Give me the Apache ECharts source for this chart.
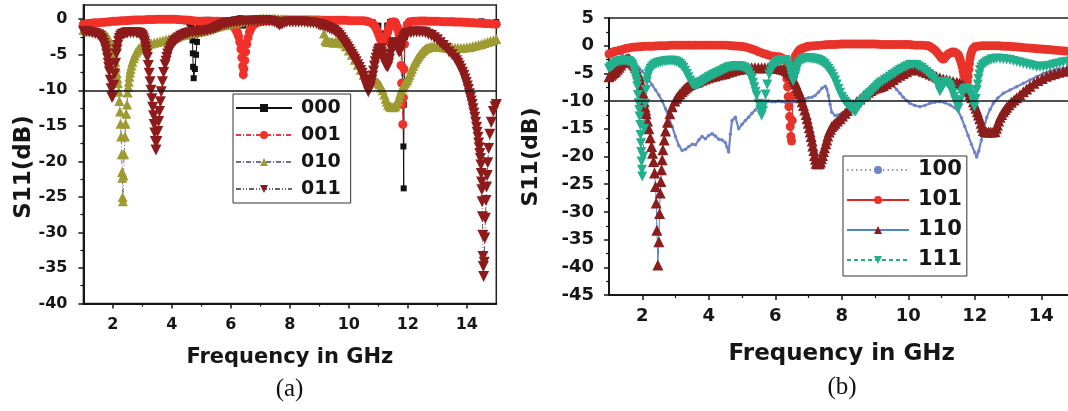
<!DOCTYPE html>
<html>
<head>
<meta charset="utf-8">
<script src="https://cdn.jsdelivr.net/npm/echarts@6/dist/echarts.min.js"></script>
<style>
html,body{margin:0;padding:0;background:#fff;}
#chart{width:1068px;height:411px;}
</style>
</head>
<body>
<div id="chart"></div>
<script>
// ---- tick values ----
const freqMajor = [2, 4, 6, 8, 10, 12, 14];
const freqMinor = [3, 5, 7, 9, 11, 13];
const dbMajorA = [0, -5, -10, -15, -20, -25, -30, -35, -40];
const dbMinorA = [-2.5, -7.5, -12.5, -17.5, -22.5, -27.5, -32.5, -37.5];
const dbMajorB = [5, 0, -5, -10, -15, -20, -25, -30, -35, -40, -45];
const dbMinorB = [2.5, -2.5, -7.5, -12.5, -17.5, -22.5, -27.5, -32.5, -37.5, -42.5];

// ---- (a) states: [frequency GHz, S11 dB] ----
const s000 = [[1.0,-0.5],[1.25,-0.45],[1.5,-0.4],[1.75,-0.3],[2.0,-0.2],[2.5,-0.1],[3.0,-0.1],[3.5,0],[4.0,-0.1],[4.3,-0.2],[4.5,-0.3],[4.6,-0.6],[4.66,-1.0],[4.7,-3.0],[4.71,-4.8],[4.72,-6.7],[4.74,-8.3],[4.78,-7.0],[4.82,-5.0],[4.85,-3.2],[4.9,-1.0],[4.95,-0.4],[5.0,-0.2],[5.05,-0.15],[5.1,-0.1],[5.15,-0.1],[5.2,-0.1],[5.25,-0.1],[5.3,-0.1],[5.35,-0.12],[5.4,-0.15],[5.45,-0.18],[5.5,-0.2],[5.55,-0.2],[5.6,-0.2],[5.8,-0.15],[6.0,-0.1],[6.1,-0.05],[6.2,0],[6.25,0.05],[6.3,0.1],[6.35,0.1],[6.42,-0.9],[6.5,-0.6],[6.6,-0.3],[6.8,-0.2],[7.0,-0.1],[7.5,0],[8.0,-0.1],[8.5,-0.1],[9.0,-0.1],[9.5,-0.1],[10.0,-0.1],[10.5,-0.2],[10.8,-0.4],[11.0,-0.9],[11.1,-2.0],[11.15,-3.4],[11.22,-2.2],[11.3,-0.9],[11.4,-0.4],[11.45,-0.3],[11.5,-0.25],[11.55,-0.3],[11.6,-0.5],[11.68,-1.2],[11.76,-2.8],[11.82,-6.7],[11.84,-12.0],[11.85,-17.9],[11.86,-23.8],[11.87,-12.0],[11.9,-2.5],[11.95,-0.8],[12.1,-0.3],[12.5,-0.2],[13.0,-0.2],[13.5,-0.2],[14.0,-0.3],[14.5,-0.3],[15.0,-0.4]];

const s001 = [[1.0,-0.7],[1.1,-0.65],[1.2,-0.6],[1.3,-0.55],[1.4,-0.5],[1.5,-0.48],[1.6,-0.45],[1.7,-0.42],[1.8,-0.4],[1.9,-0.35],[2.0,-0.3],[2.1,-0.28],[2.2,-0.25],[2.3,-0.22],[2.4,-0.2],[2.5,-0.18],[2.6,-0.15],[2.7,-0.12],[2.8,-0.1],[2.9,-0.1],[3.0,-0.1],[3.1,-0.08],[3.2,-0.05],[3.3,-0.05],[3.4,-0.05],[3.5,-0.02],[3.6,0],[3.7,0],[3.8,0],[3.9,0],[4.0,0],[4.1,-0.02],[4.2,-0.05],[4.3,-0.08],[4.4,-0.1],[4.5,-0.12],[4.6,-0.15],[4.7,-0.2],[4.8,-0.25],[4.9,-0.28],[5.0,-0.3],[5.1,-0.3],[5.2,-0.3],[5.3,-0.3],[5.4,-0.3],[5.5,-0.3],[5.6,-0.3],[5.7,-0.32],[5.8,-0.35],[5.88,-0.42],[5.95,-0.5],[6.0,-0.65],[6.05,-0.8],[6.12,-1.2],[6.17,-1.5],[6.2,-1.7],[6.23,-2.0],[6.26,-2.4],[6.3,-3.2],[6.34,-4.2],[6.37,-5.4],[6.4,-6.6],[6.42,-7.8],[6.44,-7.0],[6.47,-5.8],[6.5,-4.6],[6.54,-3.5],[6.58,-2.6],[6.63,-1.8],[6.67,-1.4],[6.7,-1.1],[6.75,-0.9],[6.8,-0.7],[6.85,-0.55],[6.9,-0.45],[7.0,-0.35],[7.1,-0.3],[7.2,-0.25],[7.3,-0.22],[7.4,-0.2],[7.5,-0.18],[7.6,-0.15],[7.7,-0.12],[7.8,-0.1],[7.9,-0.1],[8.0,-0.1],[8.1,-0.1],[8.2,-0.1],[8.3,-0.1],[8.4,-0.1],[8.5,-0.1],[8.6,-0.1],[8.7,-0.1],[8.8,-0.1],[8.9,-0.1],[9.0,-0.1],[9.1,-0.15],[9.2,-0.15],[9.3,-0.15],[9.4,-0.15],[9.5,-0.15],[9.6,-0.15],[9.7,-0.15],[9.8,-0.15],[9.9,-0.15],[10.0,-0.2],[10.1,-0.2],[10.2,-0.2],[10.3,-0.2],[10.4,-0.2],[10.5,-0.22],[10.6,-0.3],[10.7,-0.4],[10.8,-0.6],[10.85,-0.8],[10.9,-1.1],[10.94,-1.4],[10.98,-1.8],[11.02,-2.2],[11.05,-2.6],[11.08,-2.9],[11.12,-3.2],[11.16,-3.2],[11.2,-3.0],[11.24,-2.7],[11.28,-2.3],[11.32,-1.8],[11.35,-1.3],[11.38,-0.9],[11.42,-0.6],[11.46,-0.45],[11.5,-0.4],[11.54,-0.4],[11.58,-0.5],[11.61,-0.8],[11.64,-1.2],[11.67,-1.6],[11.7,-2.2],[11.74,-4.0],[11.77,-6.5],[11.79,-9.0],[11.81,-12.0],[11.83,-14.8],[11.85,-11.0],[11.87,-7.0],[11.89,-3.5],[11.93,-1.5],[11.98,-0.8],[12.02,-0.55],[12.05,-0.4],[12.1,-0.35],[12.2,-0.3],[12.3,-0.28],[12.4,-0.25],[12.5,-0.25],[12.6,-0.25],[12.7,-0.28],[12.8,-0.3],[12.9,-0.3],[13.0,-0.3],[13.1,-0.32],[13.2,-0.35],[13.3,-0.35],[13.4,-0.35],[13.5,-0.38],[13.6,-0.4],[13.7,-0.4],[13.8,-0.4],[13.9,-0.42],[14.0,-0.45],[14.1,-0.48],[14.2,-0.5],[14.3,-0.52],[14.4,-0.55],[14.5,-0.58],[14.6,-0.6],[14.7,-0.62],[14.8,-0.65],[14.9,-0.68],[15.0,-0.7]];

const s010 = [[1.0,-1.5],[1.1,-1.55],[1.2,-1.6],[1.3,-1.65],[1.4,-1.7],[1.5,-1.8],[1.6,-1.9],[1.68,-2.0],[1.75,-2.2],[1.8,-2.4],[1.85,-2.7],[1.9,-3.1],[1.95,-3.5],[1.99,-4.0],[2.02,-4.6],[2.05,-5.3],[2.08,-6.0],[2.1,-6.8],[2.13,-7.6],[2.15,-8.3],[2.17,-9.0],[2.2,-10.2],[2.22,-11.5],[2.24,-13.0],[2.26,-14.7],[2.28,-16.5],[2.3,-19.0],[2.31,-21.5],[2.32,-22.3],[2.33,-25.0],[2.34,-25.6],[2.36,-22.0],[2.38,-19.0],[2.41,-16.5],[2.43,-14.7],[2.45,-13.3],[2.48,-12.0],[2.5,-10.3],[2.52,-9.5],[2.54,-8.8],[2.56,-8.1],[2.58,-7.5],[2.6,-7.0],[2.63,-6.5],[2.66,-6.0],[2.7,-5.5],[2.74,-5.1],[2.78,-4.7],[2.83,-4.4],[2.88,-4.1],[2.94,-3.95],[3.0,-3.8],[3.1,-3.7],[3.2,-3.55],[3.3,-3.4],[3.4,-3.3],[3.5,-3.2],[3.6,-3.1],[3.7,-3.0],[3.8,-2.9],[3.9,-2.8],[4.0,-2.7],[4.1,-2.6],[4.2,-2.45],[4.3,-2.3],[4.4,-2.2],[4.5,-2.1],[4.6,-2.0],[4.7,-1.9],[4.8,-1.85],[4.9,-1.8],[5.0,-1.7],[5.1,-1.6],[5.2,-1.45],[5.3,-1.3],[5.4,-1.2],[5.5,-1.1],[5.6,-1.0],[5.7,-0.9],[5.8,-0.8],[5.9,-0.7],[6.0,-0.6],[6.1,-0.5],[6.2,-0.45],[6.3,-0.4],[6.4,-0.3],[6.5,-0.2],[6.6,-0.15],[6.7,-0.1],[6.8,-0.05],[6.9,0],[7.0,0.05],[7.1,0.1],[7.2,0.1],[7.3,0.1],[7.4,0.1],[7.5,0.1],[7.6,0.05],[7.7,0],[7.8,0],[7.9,0],[8.0,-0.05],[8.1,-0.1],[8.2,-0.1],[8.3,-0.1],[8.4,-0.1],[8.5,-0.1],[8.6,-0.1],[8.7,-0.15],[8.8,-0.2],[8.9,-0.2],[9.0,-0.25],[9.05,-0.3],[9.12,-0.8],[9.16,-2.0],[9.2,-3.0],[9.25,-3.15],[9.3,-3.2],[9.35,-3.2],[9.4,-3.2],[9.45,-3.25],[9.5,-3.3],[9.55,-3.25],[9.6,-3.2],[9.7,-3.1],[9.8,-3.4],[9.9,-3.8],[10.0,-4.4],[10.1,-5.0],[10.2,-5.7],[10.3,-6.4],[10.4,-7.1],[10.5,-7.8],[10.58,-8.15],[10.65,-8.4],[10.72,-8.5],[10.8,-8.6],[10.88,-8.7],[10.95,-8.8],[11.0,-9.0],[11.05,-9.2],[11.1,-9.6],[11.15,-10.0],[11.2,-10.6],[11.25,-11.2],[11.29,-11.6],[11.33,-12.0],[11.38,-12.2],[11.42,-12.3],[11.46,-12.35],[11.5,-12.4],[11.54,-12.3],[11.58,-12.2],[11.62,-11.9],[11.66,-11.5],[11.7,-11.0],[11.74,-10.5],[11.78,-10.0],[11.82,-9.6],[11.86,-9.3],[11.9,-9.0],[11.94,-8.75],[11.98,-8.5],[12.02,-8.15],[12.06,-7.8],[12.1,-7.4],[12.14,-7.0],[12.18,-6.6],[12.22,-6.2],[12.26,-5.9],[12.3,-5.6],[12.35,-5.3],[12.4,-5.0],[12.45,-4.75],[12.5,-4.5],[12.56,-4.3],[12.62,-4.1],[12.68,-4.0],[12.75,-3.9],[12.82,-3.85],[12.9,-3.8],[13.0,-3.85],[13.1,-3.9],[13.2,-3.95],[13.3,-4.0],[13.4,-4.0],[13.5,-4.0],[13.6,-4.0],[13.7,-4.0],[13.8,-4.0],[13.9,-4.0],[14.0,-3.95],[14.1,-3.9],[14.2,-3.8],[14.3,-3.7],[14.4,-3.6],[14.5,-3.5],[14.6,-3.35],[14.7,-3.2],[14.8,-3.05],[14.9,-2.95],[15.0,-2.8]];

const s011 = [[1.0,-1.7],[1.1,-1.75],[1.2,-1.8],[1.3,-1.9],[1.4,-2.0],[1.5,-2.2],[1.56,-2.4],[1.61,-2.7],[1.65,-3.0],[1.69,-3.4],[1.73,-3.8],[1.76,-4.3],[1.79,-4.9],[1.82,-5.5],[1.84,-6.2],[1.86,-6.8],[1.88,-7.4],[1.91,-8.6],[1.94,-9.8],[1.97,-11.0],[2.0,-10.8],[2.03,-9.3],[2.06,-7.7],[2.09,-6.2],[2.12,-4.9],[2.14,-4.3],[2.16,-3.7],[2.19,-3.1],[2.22,-2.7],[2.26,-2.4],[2.3,-2.2],[2.35,-2.1],[2.4,-2.0],[2.45,-1.95],[2.5,-1.9],[2.6,-1.9],[2.7,-1.9],[2.8,-1.9],[2.85,-1.95],[2.9,-2.0],[2.94,-2.1],[2.98,-2.3],[3.01,-2.5],[3.04,-2.8],[3.07,-3.1],[3.09,-3.5],[3.11,-3.9],[3.13,-4.4],[3.15,-4.9],[3.17,-5.4],[3.2,-6.5],[3.23,-7.6],[3.26,-8.8],[3.29,-10.0],[3.32,-11.2],[3.35,-12.4],[3.38,-13.6],[3.4,-14.8],[3.42,-16.0],[3.44,-17.2],[3.46,-18.4],[3.49,-17.2],[3.52,-15.8],[3.55,-14.4],[3.58,-13.0],[3.61,-11.6],[3.64,-10.2],[3.68,-8.8],[3.72,-7.5],[3.77,-6.4],[3.8,-5.9],[3.83,-5.4],[3.86,-4.9],[3.9,-4.5],[3.94,-4.1],[3.98,-3.8],[4.02,-3.5],[4.07,-3.2],[4.12,-3.0],[4.17,-2.8],[4.23,-2.6],[4.3,-2.4],[4.37,-2.25],[4.45,-2.1],[4.52,-2.0],[4.6,-1.9],[4.7,-1.85],[4.8,-1.8],[4.9,-1.75],[5.0,-1.7],[5.1,-1.65],[5.2,-1.6],[5.3,-1.5],[5.4,-1.4],[5.48,-1.25],[5.55,-1.1],[5.62,-0.95],[5.7,-0.8],[5.78,-0.7],[5.85,-0.6],[5.92,-0.55],[6.0,-0.5],[6.1,-0.45],[6.2,-0.4],[6.3,-0.35],[6.4,-0.3],[6.5,-0.3],[6.6,-0.3],[6.7,-0.28],[6.8,-0.25],[6.9,-0.22],[7.0,-0.2],[7.1,-0.2],[7.2,-0.2],[7.3,-0.25],[7.4,-0.3],[7.48,-0.4],[7.55,-0.5],[7.6,-0.65],[7.65,-0.8],[7.7,-0.7],[7.75,-0.6],[7.82,-0.5],[7.9,-0.4],[8.0,-0.4],[8.1,-0.4],[8.2,-0.4],[8.3,-0.4],[8.4,-0.4],[8.5,-0.4],[8.6,-0.45],[8.7,-0.5],[8.8,-0.55],[8.9,-0.6],[8.98,-0.7],[9.05,-0.8],[9.12,-0.9],[9.2,-1.0],[9.28,-1.15],[9.35,-1.3],[9.42,-1.45],[9.5,-1.6],[9.56,-1.8],[9.62,-2.0],[9.68,-2.3],[9.74,-2.6],[9.8,-2.95],[9.85,-3.3],[9.9,-3.6],[9.95,-3.9],[10.0,-4.25],[10.05,-4.6],[10.1,-4.95],[10.15,-5.3],[10.2,-5.65],[10.25,-6.0],[10.3,-6.4],[10.35,-6.8],[10.4,-7.2],[10.45,-7.6],[10.49,-8.05],[10.53,-8.5],[10.57,-9.0],[10.6,-9.4],[10.63,-9.8],[10.66,-10.2],[10.69,-9.9],[10.72,-9.6],[10.75,-9.1],[10.78,-8.6],[10.81,-8.0],[10.84,-7.3],[10.87,-6.6],[10.9,-6.0],[10.93,-5.5],[10.96,-5.0],[10.99,-4.6],[11.02,-4.3],[11.05,-4.2],[11.08,-4.2],[11.11,-4.6],[11.14,-5.0],[11.17,-5.5],[11.2,-5.9],[11.23,-6.2],[11.26,-6.5],[11.29,-6.6],[11.32,-6.7],[11.35,-6.2],[11.38,-5.6],[11.41,-4.9],[11.44,-4.2],[11.47,-3.8],[11.5,-3.4],[11.53,-3.3],[11.56,-3.3],[11.59,-3.4],[11.62,-3.6],[11.66,-4.1],[11.7,-4.6],[11.73,-4.5],[11.76,-4.2],[11.79,-3.6],[11.82,-3.0],[11.86,-2.6],[11.9,-2.3],[11.95,-2.1],[12.0,-2.0],[12.1,-1.9],[12.2,-1.8],[12.3,-1.8],[12.4,-1.8],[12.5,-1.8],[12.6,-1.9],[12.7,-2.1],[12.8,-2.3],[12.9,-2.6],[13.0,-2.9],[13.1,-3.3],[13.2,-3.7],[13.3,-4.1],[13.4,-4.6],[13.5,-5.0],[13.6,-5.5],[13.65,-5.85],[13.7,-6.2],[13.75,-6.6],[13.8,-7.0],[13.85,-7.45],[13.9,-7.9],[13.94,-8.4],[13.98,-8.9],[14.02,-9.4],[14.05,-9.9],[14.09,-10.5],[14.12,-11.0],[14.15,-11.5],[14.18,-12.0],[14.21,-12.6],[14.24,-13.2],[14.27,-13.8],[14.3,-14.5],[14.33,-15.2],[14.35,-15.9],[14.38,-16.6],[14.4,-17.4],[14.42,-18.1],[14.44,-18.9],[14.46,-19.6],[14.48,-20.5],[14.49,-21.7],[14.5,-22.9],[14.51,-24.0],[14.52,-25.7],[14.53,-27.8],[14.54,-30.4],[14.55,-33.4],[14.56,-34.8],[14.57,-36.2],[14.59,-34.2],[14.61,-30.8],[14.63,-28.0],[14.65,-25.5],[14.67,-23.6],[14.69,-22.0],[14.71,-20.2],[14.74,-18.2],[14.78,-16.2],[14.83,-14.5],[14.9,-13.0],[14.96,-12.3],[15.0,-12.0]];

// ---- (b) states: [frequency GHz, S11 dB] ----
const s100 = [[1.0,-1.0],[1.1,-0.9],[1.2,-1.0],[1.3,-1.3],[1.4,-1.7],[1.5,-2.2],[1.6,-2.7],[1.7,-3.2],[1.8,-3.6],[1.9,-4.0],[2.0,-4.6],[2.1,-5.4],[2.2,-6.2],[2.3,-7.1],[2.4,-8.0],[2.5,-8.9],[2.6,-10.0],[2.7,-11.4],[2.8,-13.0],[2.9,-14.6],[3.0,-16.4],[3.1,-18.0],[3.2,-18.9],[3.3,-18.7],[3.4,-18.2],[3.5,-17.8],[3.6,-17.9],[3.7,-17.0],[3.8,-16.4],[3.9,-16.8],[4.0,-16.2],[4.1,-15.9],[4.2,-16.3],[4.3,-16.9],[4.4,-17.0],[4.5,-17.5],[4.55,-18.3],[4.6,-19.2],[4.65,-16.0],[4.7,-13.5],[4.8,-12.9],[4.9,-15.0],[5.0,-14.2],[5.1,-13.5],[5.2,-12.9],[5.3,-12.2],[5.4,-11.6],[5.5,-10.9],[5.6,-10.3],[5.7,-10.1],[5.8,-10.0],[5.9,-10.1],[6.0,-10.1],[6.1,-10.0],[6.2,-10.1],[6.3,-10.2],[6.4,-10.3],[6.5,-10.2],[6.6,-10.1],[6.7,-10.0],[6.8,-9.8],[6.9,-9.6],[7.0,-9.4],[7.1,-9.3],[7.2,-9.0],[7.3,-8.4],[7.4,-7.7],[7.5,-7.3],[7.55,-7.8],[7.6,-9.0],[7.65,-10.6],[7.7,-12.0],[7.8,-12.6],[7.9,-12.5],[8.0,-12.2],[8.2,-11.5],[8.4,-10.6],[8.6,-9.5],[8.8,-8.5],[9.0,-7.6],[9.2,-6.8],[9.35,-6.3],[9.45,-6.5],[9.55,-7.2],[9.65,-7.9],[9.75,-8.6],[9.85,-9.3],[9.95,-9.9],[10.05,-10.4],[10.2,-10.8],[10.35,-11.0],[10.5,-10.8],[10.65,-10.4],[10.8,-10.2],[10.95,-10.1],[11.1,-10.3],[11.26,-10.7],[11.4,-11.2],[11.5,-11.8],[11.6,-13.0],[11.7,-14.6],[11.8,-16.2],[11.9,-17.8],[12.0,-19.3],[12.06,-20.1],[12.12,-19.0],[12.2,-17.0],[12.28,-14.8],[12.36,-12.9],[12.46,-11.5],[12.56,-10.4],[12.7,-9.4],[12.86,-8.6],[13.06,-8.0],[13.26,-7.4],[13.46,-6.8],[13.66,-6.2],[13.86,-5.6],[14.06,-5.0],[14.26,-4.6],[14.46,-4.3],[14.66,-4.1],[14.86,-3.9],[15.1,-3.8]];

const s101 = [[1.0,-1.5],[1.05,-1.35],[1.1,-1.2],[1.15,-1.1],[1.2,-1.0],[1.3,-0.85],[1.4,-0.7],[1.5,-0.5],[1.6,-0.4],[1.7,-0.3],[1.8,-0.25],[1.9,-0.2],[2.0,-0.15],[2.1,-0.1],[2.2,-0.1],[2.3,-0.1],[2.4,-0.05],[2.5,0],[2.6,0],[2.7,0],[2.8,0.05],[2.9,0.1],[3.0,0.1],[3.1,0.1],[3.2,0.1],[3.3,0.1],[3.4,0.1],[3.5,0.1],[3.6,0.1],[3.7,0.1],[3.8,0.1],[3.9,0.1],[4.0,0.1],[4.1,0.1],[4.2,0.1],[4.3,0.1],[4.4,0.1],[4.5,0.1],[4.6,0.05],[4.7,0],[4.8,-0.05],[4.9,-0.1],[5.0,-0.15],[5.1,-0.25],[5.2,-0.4],[5.3,-0.6],[5.4,-0.8],[5.5,-1.1],[5.6,-1.3],[5.7,-1.5],[5.8,-1.7],[5.9,-1.85],[6.0,-1.95],[6.1,-2.0],[6.15,-2.1],[6.2,-2.2],[6.25,-2.4],[6.28,-2.6],[6.32,-4.0],[6.35,-6.0],[6.37,-7.4],[6.39,-9.2],[6.41,-11.0],[6.43,-12.8],[6.45,-14.6],[6.47,-16.4],[6.49,-17.2],[6.51,-13.5],[6.53,-9.0],[6.55,-5.5],[6.57,-3.2],[6.6,-2.0],[6.63,-1.6],[6.67,-1.2],[6.72,-0.8],[6.76,-0.65],[6.8,-0.5],[6.85,-0.4],[6.9,-0.3],[6.95,-0.2],[7.0,-0.1],[7.1,-0.05],[7.2,0],[7.3,0.05],[7.4,0.1],[7.5,0.15],[7.6,0.2],[7.7,0.2],[7.8,0.2],[7.9,0.25],[8.0,0.3],[8.1,0.3],[8.2,0.3],[8.3,0.3],[8.4,0.3],[8.5,0.3],[8.6,0.3],[8.7,0.3],[8.8,0.3],[8.9,0.3],[9.0,0.3],[9.1,0.25],[9.2,0.2],[9.3,0.2],[9.4,0.2],[9.5,0.2],[9.6,0.2],[9.7,0.2],[9.8,0.2],[9.9,0.2],[10.0,0.2],[10.1,0.15],[10.2,0.1],[10.3,0.1],[10.4,0.1],[10.5,0.05],[10.6,0],[10.66,-0.2],[10.72,-0.4],[10.77,-0.65],[10.82,-0.9],[10.87,-1.25],[10.92,-1.6],[10.96,-1.9],[11.0,-2.2],[11.03,-2.35],[11.06,-2.4],[11.09,-2.25],[11.12,-2.0],[11.16,-1.75],[11.2,-1.5],[11.25,-1.35],[11.3,-1.2],[11.35,-1.15],[11.4,-1.2],[11.45,-1.35],[11.5,-1.6],[11.53,-2.0],[11.56,-2.5],[11.59,-3.1],[11.62,-3.8],[11.65,-4.6],[11.67,-5.3],[11.7,-6.0],[11.72,-6.5],[11.74,-6.8],[11.76,-7.0],[11.78,-6.4],[11.8,-5.5],[11.82,-4.3],[11.84,-3.2],[11.86,-2.3],[11.88,-1.6],[11.9,-1.2],[11.93,-0.7],[11.96,-0.45],[12.0,-0.2],[12.1,-0.1],[12.2,0],[12.3,0],[12.4,0],[12.5,0],[12.6,0],[12.7,0],[12.8,-0.05],[12.9,-0.1],[13.0,-0.1],[13.1,-0.15],[13.2,-0.2],[13.3,-0.25],[13.4,-0.3],[13.5,-0.35],[13.6,-0.4],[13.7,-0.45],[13.8,-0.5],[13.9,-0.55],[14.0,-0.6],[14.1,-0.65],[14.2,-0.7],[14.3,-0.75],[14.4,-0.8],[14.5,-0.85],[14.6,-0.9],[14.7,-0.95],[14.8,-1.0],[14.9,-1.05],[15.0,-1.1],[15.1,-1.1],[15.2,-1.1]];

const s110 = [[1.0,-5.6],[1.05,-5.35],[1.1,-5.1],[1.15,-4.85],[1.2,-4.6],[1.25,-4.25],[1.3,-3.9],[1.35,-3.5],[1.4,-3.1],[1.45,-2.8],[1.5,-2.5],[1.54,-2.35],[1.58,-2.3],[1.62,-2.45],[1.66,-2.7],[1.7,-3.0],[1.73,-3.3],[1.77,-3.6],[1.8,-4.0],[1.84,-4.5],[1.88,-5.0],[1.91,-5.6],[1.94,-6.3],[1.97,-7.0],[1.99,-7.7],[2.02,-8.5],[2.04,-9.3],[2.06,-10.1],[2.08,-11.0],[2.1,-11.6],[2.12,-12.3],[2.16,-13.6],[2.2,-15.0],[2.24,-16.6],[2.28,-18.2],[2.31,-19.4],[2.34,-20.9],[2.37,-23.0],[2.4,-25.4],[2.42,-28.4],[2.44,-33.3],[2.47,-39.6],[2.5,-35.4],[2.52,-30.3],[2.54,-26.6],[2.56,-24.5],[2.58,-22.4],[2.6,-20.6],[2.62,-18.8],[2.66,-17.0],[2.7,-15.4],[2.76,-13.8],[2.83,-12.3],[2.9,-11.0],[2.98,-10.0],[3.03,-9.5],[3.08,-9.1],[3.13,-8.7],[3.19,-8.3],[3.24,-8.0],[3.29,-7.7],[3.34,-7.45],[3.39,-7.2],[3.46,-7.0],[3.54,-6.8],[3.62,-6.65],[3.69,-6.5],[3.79,-6.25],[3.89,-6.0],[3.99,-5.8],[4.09,-5.6],[4.19,-5.45],[4.29,-5.3],[4.39,-5.15],[4.49,-5.0],[4.59,-4.8],[4.69,-4.6],[4.79,-4.45],[4.89,-4.3],[4.99,-4.2],[5.09,-4.1],[5.19,-4.05],[5.29,-4.0],[5.39,-4.0],[5.49,-4.0],[5.59,-4.0],[5.69,-4.0],[5.79,-4.0],[5.89,-4.0],[5.99,-4.05],[6.09,-4.1],[6.17,-4.2],[6.25,-4.3],[6.32,-4.5],[6.38,-4.8],[6.44,-5.1],[6.49,-5.4],[6.54,-5.9],[6.58,-6.4],[6.62,-6.9],[6.66,-7.5],[6.7,-8.1],[6.74,-8.7],[6.78,-9.4],[6.81,-10.1],[6.85,-10.8],[6.89,-11.6],[6.93,-12.4],[6.96,-13.2],[6.99,-14.0],[7.02,-14.8],[7.05,-15.6],[7.08,-16.4],[7.11,-17.2],[7.13,-18.1],[7.16,-18.9],[7.18,-19.8],[7.21,-20.5],[7.23,-21.2],[7.27,-21.3],[7.3,-21.3],[7.33,-21.2],[7.36,-21.0],[7.39,-20.4],[7.42,-19.8],[7.45,-19.1],[7.48,-18.4],[7.52,-17.7],[7.55,-17.0],[7.58,-16.3],[7.62,-15.6],[7.66,-15.1],[7.7,-14.6],[7.75,-14.3],[7.8,-14.0],[7.87,-13.6],[7.95,-13.2],[8.02,-12.7],[8.1,-12.2],[8.17,-11.7],[8.25,-11.2],[8.35,-10.6],[8.45,-10.1],[8.55,-9.6],[8.65,-9.1],[8.72,-8.75],[8.8,-8.4],[8.88,-8.1],[8.95,-7.8],[9.02,-7.65],[9.1,-7.5],[9.17,-7.35],[9.25,-7.2],[9.35,-6.85],[9.45,-6.5],[9.55,-6.1],[9.65,-5.7],[9.75,-5.35],[9.85,-5.0],[9.95,-4.7],[10.05,-4.4],[10.15,-4.3],[10.25,-4.2],[10.35,-4.4],[10.45,-4.6],[10.55,-4.85],[10.65,-5.1],[10.75,-5.35],[10.85,-5.6],[10.95,-5.8],[11.05,-6.0],[11.15,-6.15],[11.25,-6.3],[11.35,-6.45],[11.46,-6.6],[11.54,-6.8],[11.62,-7.0],[11.69,-7.4],[11.76,-7.8],[11.81,-8.3],[11.86,-8.8],[11.91,-9.4],[11.96,-10.1],[12.0,-10.7],[12.04,-11.3],[12.08,-11.9],[12.11,-12.5],[12.15,-13.2],[12.19,-14.0],[12.22,-14.7],[12.26,-15.3],[12.31,-15.5],[12.36,-15.6],[12.42,-15.6],[12.48,-15.6],[12.55,-15.6],[12.61,-15.5],[12.65,-14.9],[12.68,-14.3],[12.72,-13.6],[12.76,-12.9],[12.81,-12.4],[12.86,-11.9],[12.91,-11.5],[12.96,-11.1],[13.03,-10.65],[13.1,-10.2],[13.18,-9.8],[13.26,-9.4],[13.36,-8.85],[13.46,-8.3],[13.56,-7.8],[13.66,-7.3],[13.78,-6.8],[13.9,-6.3],[14.03,-5.9],[14.16,-5.5],[14.28,-5.25],[14.4,-5.0],[14.53,-4.8],[14.66,-4.6],[14.78,-4.4],[14.9,-4.2],[15.05,-4.0],[15.2,-3.8]];

const s111 = [[1.0,-4.1],[1.05,-3.85],[1.1,-3.6],[1.15,-3.35],[1.2,-3.1],[1.25,-2.95],[1.3,-2.8],[1.35,-2.75],[1.4,-2.7],[1.45,-2.7],[1.5,-2.7],[1.55,-2.75],[1.6,-2.8],[1.64,-3.0],[1.67,-3.2],[1.7,-3.5],[1.73,-3.9],[1.76,-4.3],[1.78,-4.8],[1.8,-5.4],[1.82,-6.0],[1.84,-6.6],[1.85,-7.3],[1.87,-8.9],[1.89,-10.4],[1.91,-11.6],[1.92,-12.8],[1.94,-14.3],[1.95,-16.1],[1.96,-17.6],[1.97,-19.2],[1.98,-20.9],[1.99,-22.4],[2.0,-23.6],[2.03,-20.0],[2.06,-15.0],[2.09,-10.5],[2.11,-8.0],[2.14,-6.4],[2.16,-5.7],[2.19,-5.0],[2.22,-4.6],[2.25,-4.2],[2.29,-3.9],[2.33,-3.6],[2.38,-3.4],[2.43,-3.2],[2.49,-3.1],[2.55,-3.0],[2.61,-2.9],[2.68,-2.8],[2.74,-2.75],[2.8,-2.7],[2.86,-2.7],[2.92,-2.7],[2.98,-2.8],[3.03,-2.9],[3.09,-3.1],[3.14,-3.3],[3.19,-3.6],[3.24,-4.0],[3.29,-4.5],[3.34,-5.1],[3.39,-5.7],[3.44,-6.3],[3.48,-6.7],[3.52,-7.0],[3.56,-7.1],[3.6,-7.2],[3.65,-7.05],[3.7,-6.9],[3.75,-6.7],[3.8,-6.5],[3.85,-6.3],[3.9,-6.1],[3.95,-5.9],[4.0,-5.7],[4.05,-5.55],[4.1,-5.4],[4.15,-5.25],[4.2,-5.1],[4.25,-4.95],[4.3,-4.8],[4.35,-4.65],[4.4,-4.5],[4.45,-4.35],[4.5,-4.2],[4.55,-4.05],[4.6,-3.9],[4.65,-3.85],[4.7,-3.8],[4.75,-3.75],[4.8,-3.7],[4.85,-3.7],[4.9,-3.7],[4.95,-3.75],[5.0,-3.8],[5.05,-3.95],[5.1,-4.1],[5.15,-4.4],[5.2,-4.8],[5.25,-5.4],[5.29,-6.0],[5.33,-6.7],[5.37,-7.5],[5.41,-8.3],[5.44,-9.0],[5.5,-10.5],[5.55,-11.6],[5.59,-12.6],[5.63,-11.8],[5.67,-10.6],[5.71,-8.8],[5.76,-7.0],[5.82,-5.2],[5.86,-4.6],[5.9,-4.0],[5.95,-3.6],[6.0,-3.2],[6.05,-3.0],[6.1,-2.8],[6.15,-2.7],[6.2,-2.6],[6.25,-2.6],[6.3,-2.6],[6.34,-2.85],[6.38,-3.2],[6.42,-3.8],[6.45,-4.4],[6.48,-5.0],[6.5,-5.6],[6.54,-6.4],[6.59,-5.6],[6.62,-5.0],[6.64,-4.4],[6.67,-3.8],[6.7,-3.3],[6.75,-2.9],[6.8,-2.6],[6.85,-2.45],[6.9,-2.3],[6.95,-2.25],[7.0,-2.2],[7.05,-2.25],[7.1,-2.3],[7.15,-2.35],[7.2,-2.4],[7.25,-2.5],[7.3,-2.6],[7.35,-2.75],[7.4,-2.9],[7.45,-3.15],[7.5,-3.4],[7.55,-3.8],[7.6,-4.2],[7.65,-4.65],[7.7,-5.1],[7.75,-5.7],[7.8,-6.3],[7.85,-7.0],[7.9,-7.8],[7.95,-8.5],[8.0,-9.2],[8.05,-9.7],[8.1,-10.1],[8.15,-10.5],[8.2,-10.8],[8.25,-11.1],[8.3,-11.4],[8.35,-11.65],[8.4,-11.9],[8.44,-11.6],[8.48,-11.2],[8.52,-10.8],[8.55,-10.4],[8.6,-10.1],[8.65,-9.8],[8.7,-9.5],[8.75,-9.2],[8.8,-8.9],[8.85,-8.6],[8.9,-8.3],[8.95,-8.0],[9.0,-7.7],[9.05,-7.4],[9.1,-7.1],[9.15,-6.8],[9.22,-6.5],[9.3,-6.2],[9.37,-5.9],[9.45,-5.6],[9.52,-5.3],[9.6,-5.0],[9.67,-4.7],[9.75,-4.4],[9.82,-4.15],[9.9,-3.9],[9.97,-3.7],[10.05,-3.5],[10.15,-3.45],[10.25,-3.5],[10.32,-3.75],[10.4,-4.0],[10.47,-4.35],[10.55,-4.7],[10.62,-5.1],[10.7,-5.5],[10.77,-6.0],[10.85,-6.5],[10.9,-7.3],[10.95,-8.2],[10.98,-7.9],[11.02,-7.5],[11.06,-7.0],[11.1,-6.5],[11.14,-6.6],[11.18,-6.8],[11.22,-7.1],[11.26,-7.4],[11.3,-7.9],[11.34,-8.5],[11.38,-9.2],[11.41,-9.8],[11.46,-10.6],[11.51,-11.3],[11.56,-10.0],[11.61,-8.6],[11.65,-8.2],[11.68,-7.9],[11.72,-7.8],[11.76,-7.7],[11.8,-7.9],[11.84,-8.3],[11.88,-8.8],[11.91,-9.2],[11.96,-10.2],[11.99,-11.0],[12.03,-9.6],[12.06,-8.0],[12.09,-7.0],[12.11,-6.0],[12.14,-5.2],[12.16,-4.4],[12.2,-3.9],[12.25,-3.5],[12.3,-3.2],[12.36,-2.9],[12.43,-2.7],[12.5,-2.5],[12.58,-2.4],[12.66,-2.3],[12.76,-2.35],[12.86,-2.4],[12.96,-2.5],[13.06,-2.6],[13.16,-2.75],[13.26,-2.9],[13.36,-3.05],[13.46,-3.2],[13.56,-3.35],[13.66,-3.5],[13.76,-3.65],[13.86,-3.8],[13.96,-3.8],[14.06,-3.8],[14.16,-3.7],[14.26,-3.6],[14.36,-3.45],[14.46,-3.3],[14.56,-3.15],[14.66,-3.0],[14.78,-2.9],[14.9,-2.8],[15.05,-2.75],[15.2,-2.7]];

// ---- styling helpers ----
const FONT = 'DejaVu Sans';
const INK = '#161616';

function mainX(grid, fs, margin, nameSize, nameGap) {
  return {
    type: 'value', gridIndex: grid, min: 1, max: 15, position: 'bottom',
    axisLine: { show: true, onZero: false, lineStyle: { color: INK, width: 2 } },
    axisTick: { show: true, inside: false, length: 5, customValues: freqMajor, lineStyle: { color: INK, width: 1.5 } },
    axisLabel: { show: true, customValues: freqMajor, margin: margin, color: INK,
      fontFamily: FONT, fontWeight: 'bold', fontSize: fs },
    splitLine: { show: false },
    name: 'Frequency in GHz', nameLocation: 'middle', nameGap: nameGap,
    nameTextStyle: { fontFamily: FONT, fontWeight: 'bold', fontSize: nameSize, color: INK, verticalAlign: 'top' }
  };
}
function minorX(grid) {
  return {
    type: 'value', gridIndex: grid, min: 1, max: 15, position: 'bottom',
    axisLine: { show: false, onZero: false },
    axisTick: { show: true, inside: false, length: 3, customValues: freqMinor, lineStyle: { color: INK, width: 1.2 } },
    axisLabel: { show: false }, splitLine: { show: false }
  };
}
function mainY(grid, min, max, major, fs, margin) {
  return {
    type: 'value', gridIndex: grid, min: min, max: max, position: 'left',
    axisLine: { show: true, onZero: false, lineStyle: { color: INK, width: 2 } },
    axisTick: { show: true, inside: false, length: 5, customValues: major, lineStyle: { color: INK, width: 1.5 } },
    axisLabel: { show: true, customValues: major, margin: margin, color: INK,
      fontFamily: FONT, fontWeight: 'bold', fontSize: fs },
    splitLine: { show: false }
  };
}
function minorY(grid, min, max, minor) {
  return {
    type: 'value', gridIndex: grid, min: min, max: max, position: 'left',
    axisLine: { show: false, onZero: false },
    axisTick: { show: true, inside: false, length: 3, customValues: minor, lineStyle: { color: INK, width: 1.2 } },
    axisLabel: { show: false }, splitLine: { show: false }
  };
}
function curve(name, data, xi, yi, symbol, size, color, line, rotate) {
  return {
    name: name, type: 'line', data: data, xAxisIndex: xi, yAxisIndex: yi,
    symbol: symbol, symbolSize: size, symbolRotate: rotate || 0, showSymbol: true,
    itemStyle: { color: color }, lineStyle: line, emphasis: { disabled: true },
    silent: true, animation: false
  };
}
const refLine = {
  silent: true, symbol: ['none', 'none'], animation: false,
  label: { show: false },
  lineStyle: { color: INK, width: 1.5, type: 'solid' },
  data: [{ yAxis: -10 }]
};

// ---- series ----
const series = [
  Object.assign(curve('000', s000, 0, 0, 'rect', 6, '#111111', { color: '#111111', width: 1, type: 'solid' }), { markLine: refLine }),
  curve('001', s001, 0, 0, 'circle', 9, '#f2302a', { color: '#e63a3a', width: 1, type: [5, 2, 1, 2] }),
  curve('010', s010, 0, 0, 'triangle', 10, '#9d9b32', { color: '#7a68a2', width: 1, type: [5, 2, 1, 2] }),
  curve('011', s011, 0, 0, 'triangle', 11, '#8e1b1b', { color: '#6c5a82', width: 1, type: [5, 2, 1, 2, 1, 2] }, 180),
  Object.assign(curve('100', s100, 2, 2, 'circle', 3.5, '#6d84c9', { color: '#6d84c9', width: 2.2, type: 'solid' }), { markLine: refLine }),
  curve('101', s101, 2, 2, 'circle', 9, '#e8332b', { color: '#d8281f', width: 1, type: 'solid' }),
  curve('110', s110, 2, 2, 'triangle', 11, '#8c1d1d', { color: '#4f86c6', width: 1, type: 'solid' }),
  curve('111', s111, 2, 2, 'triangle', 10, '#22b08d', { color: '#2aa98a', width: 1, type: [4, 3] }, 180)
];

const legendText = (fs, lh) => ({
  fontFamily: FONT, fontWeight: 'bold', fontSize: fs, lineHeight: lh, color: INK, padding: [0, 0, 0, 4]
});

const option = {
  backgroundColor: '#ffffff',
  animation: false,
  grid: [
    { left: 83.4, top: 5, width: 412.9, height: 298.5, show: true, borderColor: '#222', borderWidth: 1.5,
      backgroundColor: 'transparent', outerBoundsMode: 'none', containLabel: false },
    { left: 609, top: 18, width: 465.5, height: 277, show: true, borderColor: '#222', borderWidth: 1.5,
      backgroundColor: 'transparent', outerBoundsMode: 'none', containLabel: false }
  ],
  xAxis: [
    mainX(0, 16, 13, 21, 44), minorX(0),
    mainX(1, 18, 12, 23, 48), minorX(1)
  ],
  yAxis: [
    mainY(0, -40, 2, dbMajorA, 16, 16), minorY(0, -40, 2, dbMinorA),
    mainY(1, -45, 5, dbMajorB, 18, 15), minorY(1, -45, 5, dbMinorB)
  ],
  legend: [
    { data: ['000', '001', '010', '011'], orient: 'vertical', left: 233, top: 94,
      padding: [4, 10, 4, 2], itemGap: 7, itemWidth: 56, itemHeight: 10,
      borderColor: '#333', borderWidth: 1, backgroundColor: '#fff',
      selectedMode: false, textStyle: legendText(19, 20) },
    { data: [
        { name: '100', lineStyle: { color: '#2b3550', width: 1.2, type: [1.5, 3] } },
        '101', '110', '111'
      ],
      orient: 'vertical', left: 843, top: 156,
      padding: [3, 5, 5, 3], itemGap: 8, itemWidth: 62, itemHeight: 10,
      borderColor: '#333', borderWidth: 1, backgroundColor: '#fff',
      selectedMode: false, textStyle: legendText(21, 22) }
  ],
  graphic: [
    { type: 'text', x: 24.5, y: 167, rotation: Math.PI / 2, silent: true,
      style: { text: 'S11(dB)', font: 'bold 23px "DejaVu Sans"', fill: INK, textAlign: 'center', textVerticalAlign: 'middle' } },
    { type: 'text', x: 531, y: 157, rotation: Math.PI / 2, silent: true,
      style: { text: 'S11(dB)', font: 'bold 22px "DejaVu Sans"', fill: INK, textAlign: 'center', textVerticalAlign: 'middle' } },
    { type: 'text', x: 289.5, y: 389, silent: true,
      style: { text: '(a)', font: '25px "Liberation Serif"', fill: '#111', textAlign: 'center', textVerticalAlign: 'middle' } },
    { type: 'text', x: 842, y: 387, silent: true,
      style: { text: '(b)', font: '25px "Liberation Serif"', fill: '#111', textAlign: 'center', textVerticalAlign: 'middle' } }
  ],
  series: series
};

const chart = echarts.init(document.getElementById('chart'), null, { renderer: 'canvas' });
chart.setOption(option);
</script>
</body>
</html>
